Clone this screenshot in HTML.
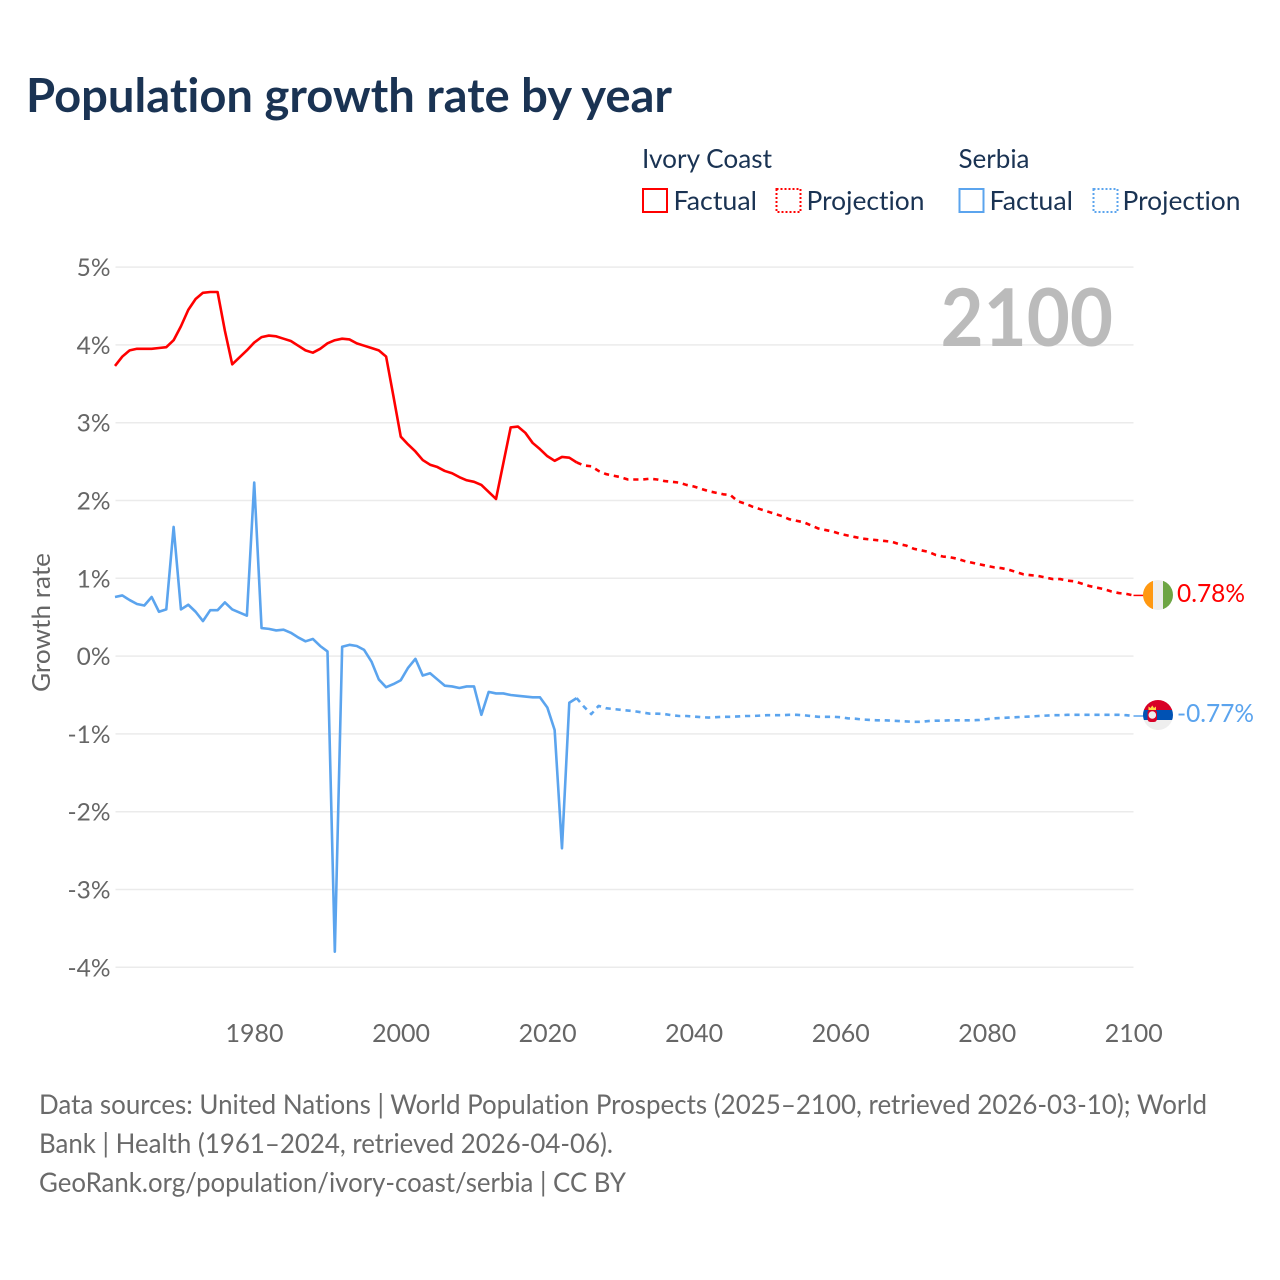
<!DOCTYPE html>
<html lang="en">
<head>
<meta charset="utf-8">
<title>Population growth rate by year</title>
<style>
html,body{margin:0;padding:0;background:#fff;width:1280px;height:1280px;overflow:hidden}
svg{display:block}
text{font-family:"Lato","Carlito","Liberation Sans",sans-serif;font-variant-ligatures:none}
</style>
</head>
<body>
<svg id="chart" xmlns="http://www.w3.org/2000/svg" width="1280" height="1280" viewBox="0 0 1280 1280">
  <rect x="0" y="0" width="1280" height="1280" fill="#fff"/>
  <text x="26" y="112" font-size="47" font-weight="700" fill="#1a3353" textLength="646" lengthAdjust="spacingAndGlyphs">Population growth rate by year</text>

  <g fill="#1a3353" font-size="26">
    <text x="642" y="168" textLength="130" lengthAdjust="spacingAndGlyphs">Ivory Coast</text>
    <text x="958.5" y="168" textLength="71" lengthAdjust="spacingAndGlyphs">Serbia</text>
    <rect x="643" y="189" width="24" height="23" fill="none" stroke="#ff0000" stroke-width="2"/>
    <text x="673.5" y="210" textLength="83.5" lengthAdjust="spacingAndGlyphs">Factual</text>
    <rect x="776.5" y="189" width="24" height="23" fill="none" stroke="#ff0000" stroke-width="2" stroke-dasharray="2 2"/>
    <text x="806.5" y="210" textLength="118" lengthAdjust="spacingAndGlyphs">Projection</text>
    <rect x="959.5" y="189" width="24" height="23" fill="none" stroke="#5ba4ee" stroke-width="2"/>
    <text x="989.5" y="210" textLength="83.5" lengthAdjust="spacingAndGlyphs">Factual</text>
    <rect x="1093.5" y="189" width="24" height="23" fill="none" stroke="#5ba4ee" stroke-width="2" stroke-dasharray="2 2"/>
    <text x="1122.5" y="210" textLength="118" lengthAdjust="spacingAndGlyphs">Projection</text>
  </g>

  <g id="grid"></g>
  <g id="yticks"></g>
  <g id="xticks"></g>
  <text transform="translate(50,622.5) rotate(-90)" text-anchor="middle" font-size="25" fill="#666" textLength="139" lengthAdjust="spacingAndGlyphs">Growth rate</text>
  <text x="940.5" y="346" font-size="80" font-weight="700" fill="#bbbbbb" textLength="172.5" lengthAdjust="spacingAndGlyphs">2100</text>

  <g id="series"></g>

  <g>
    <clipPath id="clip-ivory"><circle cx="1158" cy="595" r="15"/></clipPath>
    <g clip-path="url(#clip-ivory)">
      <rect x="1143" y="580" width="10" height="30" fill="#ff9811"/>
      <rect x="1153" y="580" width="10" height="30" fill="#eeeeee"/>
      <rect x="1163" y="580" width="10" height="30" fill="#6da544"/>
    </g>
  </g>
  <g>
    <clipPath id="clip-serbia"><circle cx="1158" cy="715" r="15"/></clipPath>
    <g clip-path="url(#clip-serbia)">
      <rect x="1143" y="700" width="30" height="10" fill="#d80027"/>
      <rect x="1143" y="710" width="30" height="10" fill="#0052b4"/>
      <rect x="1143" y="720" width="30" height="10" fill="#eeeeee"/>
      <rect x="1147.5" y="709.5" width="9.5" height="12.5" rx="3" fill="#d80027"/>
      <circle cx="1152.3" cy="715" r="3.8" fill="#eeeeee"/>
      <polygon points="1148.5,710 1148.5,706.5 1150.5,708 1152.3,705.5 1154,708 1156,706.5 1156,710" fill="#ffda44"/>
    </g>
  </g>

  <text id="label-ivory" x="1177" y="602" font-size="25" fill="#ff0000" textLength="68" lengthAdjust="spacingAndGlyphs"></text>
  <text id="label-serbia" x="1177" y="722" font-size="25" fill="#5ba4ee" textLength="77" lengthAdjust="spacingAndGlyphs"></text>

  <g font-size="27" fill="#6a6a6a">
    <text x="39" y="1114" textLength="1168" lengthAdjust="spacingAndGlyphs">Data sources: United Nations | World Population Prospects (2025–2100, retrieved 2026-03-10); World</text>
    <text x="39" y="1153" textLength="574" lengthAdjust="spacingAndGlyphs">Bank | Health (1961–2024, retrieved 2026-04-06).</text>
    <text x="39" y="1192" textLength="587" lengthAdjust="spacingAndGlyphs">GeoRank.org/population/ivory-coast/serbia | CC BY</text>
  </g>
</svg>
<script>
const firstYear = 1961;
const yTickValues = [5, 4, 3, 2, 1, 0, -1, -2, -3, -4];
const xTickYears = [1980, 2000, 2020, 2040, 2060, 2080, 2100];
// Ivory Coast 1961–2024
const ivoryFactual = [3.73,3.85,3.93,3.95,3.95,3.95,3.96,3.97,4.06,4.24,4.45,4.59,4.67,4.68,4.68,4.18,3.75,3.84,3.93,4.03,4.10,4.12,4.11,4.08,4.05,3.99,3.93,3.90,3.95,4.02,4.06,4.08,4.07,4.02,3.99,3.96,3.93,3.85,3.34,2.82,2.72,2.63,2.52,2.46,2.43,2.38,2.35,2.30,2.26,2.24,2.20,2.11,2.02,2.48,2.94,2.95,2.87,2.74,2.66,2.57,2.51,2.56,2.55,2.49];
// Ivory Coast 2025–2100
const ivoryProjection = [2.45,2.44,2.38,2.34,2.32,2.30,2.27,2.27,2.27,2.28,2.27,2.25,2.24,2.23,2.20,2.18,2.15,2.12,2.10,2.08,2.07,1.99,1.96,1.92,1.89,1.86,1.83,1.80,1.76,1.74,1.72,1.68,1.64,1.62,1.60,1.57,1.55,1.53,1.51,1.50,1.49,1.48,1.47,1.44,1.42,1.38,1.36,1.34,1.30,1.28,1.27,1.25,1.22,1.20,1.18,1.16,1.14,1.13,1.11,1.08,1.05,1.04,1.03,1.01,0.99,0.99,0.97,0.96,0.93,0.90,0.88,0.86,0.83,0.81,0.80,0.78];
// Serbia 1961–2024
const serbiaFactual = [0.76,0.78,0.72,0.67,0.65,0.76,0.57,0.60,1.66,0.60,0.66,0.57,0.45,0.59,0.59,0.69,0.60,0.56,0.52,2.23,0.36,0.35,0.33,0.34,0.30,0.24,0.19,0.22,0.13,0.06,-3.80,0.12,0.145,0.13,0.08,-0.07,-0.30,-0.40,-0.36,-0.31,-0.15,-0.035,-0.25,-0.22,-0.30,-0.38,-0.39,-0.41,-0.39,-0.39,-0.755,-0.46,-0.48,-0.48,-0.50,-0.51,-0.52,-0.53,-0.53,-0.66,-0.95,-2.47,-0.60,-0.54];
// Serbia 2025–2100
const serbiaProjection = [-0.65,-0.745,-0.64,-0.67,-0.68,-0.69,-0.70,-0.71,-0.725,-0.74,-0.74,-0.745,-0.76,-0.77,-0.77,-0.777,-0.785,-0.79,-0.785,-0.78,-0.78,-0.776,-0.77,-0.77,-0.765,-0.76,-0.76,-0.76,-0.755,-0.755,-0.76,-0.77,-0.78,-0.78,-0.78,-0.785,-0.80,-0.805,-0.815,-0.82,-0.825,-0.825,-0.83,-0.835,-0.84,-0.845,-0.845,-0.835,-0.83,-0.83,-0.825,-0.825,-0.825,-0.825,-0.82,-0.81,-0.80,-0.795,-0.79,-0.785,-0.78,-0.776,-0.77,-0.765,-0.76,-0.76,-0.755,-0.755,-0.755,-0.755,-0.755,-0.755,-0.755,-0.755,-0.76,-0.77];

const SVG_NS = 'http://www.w3.org/2000/svg';
const plotLeft = 115.0, plotRight = 1133.5;
function xScale(year) { return plotLeft + (year - firstYear) * (1133.5 - plotLeft) / (2100 - firstYear); }
function yScale(v) { return 656.1 - v * 77.8; }

function make(tag, attrs, parent) {
  const el = document.createElementNS(SVG_NS, tag);
  for (const k in attrs) el.setAttribute(k, attrs[k]);
  parent.appendChild(el);
  return el;
}

const gridGroup = document.getElementById('grid');
const yTickGroup = document.getElementById('yticks');
const xTickGroup = document.getElementById('xticks');
const seriesGroup = document.getElementById('series');

yTickValues.forEach(function (v) {
  const line = make('line', {x1: plotLeft + 0.5, x2: plotRight, y1: yScale(v), y2: yScale(v), stroke: '#ebebeb', 'stroke-width': 1.5}, gridGroup);
  
  
  const t = make('text', {x: 110.5, y: yScale(v) + 9, 'text-anchor': 'end', 'font-size': 24.5, fill: '#666666'}, yTickGroup);
  
  
  t.textContent = v + '%';
});

xTickYears.forEach(function (year) {
  const t = make('text', {x: xScale(year) + 0.3, y: 1042, 'text-anchor': 'middle', 'font-size': 25, fill: '#666666', textLength: 58, lengthAdjust: 'spacingAndGlyphs'}, xTickGroup);
  
  
  t.textContent = String(year);
});

function pathFrom(values, startYear) {
  return values.map(function (v, i) {
    return (i ? 'L' : 'M') + xScale(startYear + i).toFixed(2) + ' ' + yScale(v).toFixed(2);
  }).join(' ');
}

function drawSeries(name, values, startYear, color, dashed) {
  const p = make('path', {d: pathFrom(values, startYear), fill: 'none', stroke: color, 'stroke-width': 2.6, 'stroke-linejoin': 'round'}, seriesGroup);
  if (dashed) p.setAttribute('stroke-dasharray', '5.2 4.8');
  
  
}

const factualEnd = firstYear + ivoryFactual.length - 1;
drawSeries('line-ivory-coast-factual', ivoryFactual, firstYear, '#ff0000', false);
drawSeries('line-ivory-coast-projection', [ivoryFactual[ivoryFactual.length - 1]].concat(ivoryProjection), factualEnd, '#ff0000', true);
drawSeries('line-serbia-factual', serbiaFactual, firstYear, '#5ba4ee', false);
drawSeries('line-serbia-projection', [serbiaFactual[serbiaFactual.length - 1]].concat(serbiaProjection), factualEnd, '#5ba4ee', true);

// connector from the last point to each flag
function drawConnector(name, value, color) {
  const c = make('line', {x1: xScale(2100), x2: 1143.5, y1: yScale(value), y2: yScale(value), stroke: color, 'stroke-width': 1.5}, seriesGroup);
  
  
}
drawConnector('connector-ivory-coast', ivoryProjection[ivoryProjection.length - 1], '#ff0000');
drawConnector('connector-serbia', serbiaProjection[serbiaProjection.length - 1], '#5ba4ee');

document.getElementById('label-ivory').textContent = ivoryProjection[ivoryProjection.length - 1].toFixed(2) + '%';
document.getElementById('label-serbia').textContent = serbiaProjection[serbiaProjection.length - 1].toFixed(2) + '%';
</script>
</body>
</html>
